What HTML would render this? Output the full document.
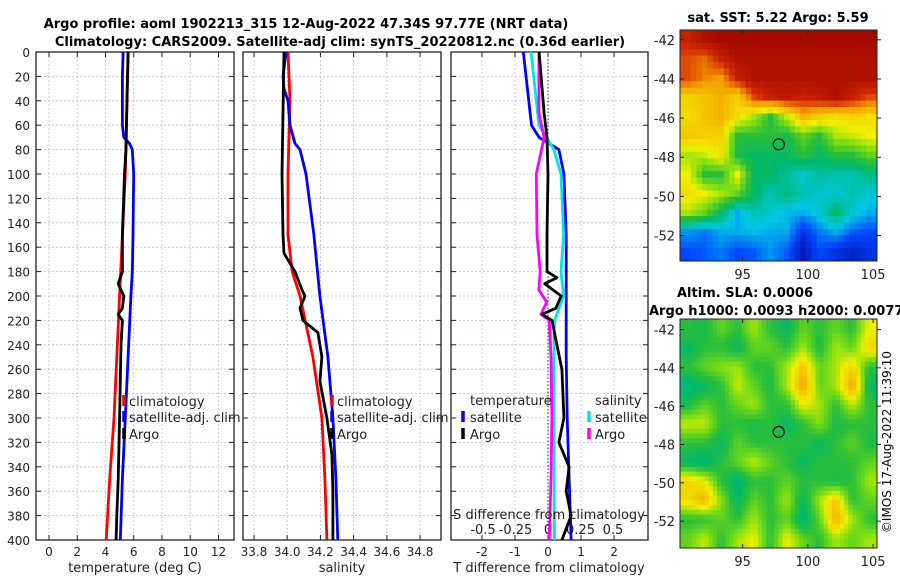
<!DOCTYPE html>
<html><head><meta charset="utf-8">
<style>
html,body{margin:0;padding:0;background:#fff;}
svg{display:block;font-family:"DejaVu Sans","Liberation Sans",sans-serif;}
</style></head>
<body>
<svg id="fig" width="900" height="580" viewBox="0 0 900 580" xmlns="http://www.w3.org/2000/svg">
<text x="306" y="28" font-size="13" font-weight="bold" text-anchor="middle">Argo profile: aoml 1902213_315 12-Aug-2022 47.34S 97.77E (NRT data)</text>
<text x="340" y="46" font-size="13" font-weight="bold" text-anchor="middle">Climatology: CARS2009. Satellite-adj clim: synTS_20220812.nc (0.36d earlier)</text>
<text x="778" y="22" font-size="13" font-weight="bold" text-anchor="middle">sat. SST: 5.22 Argo: 5.59</text>
<text x="677" y="297" font-size="13" font-weight="bold">Altim. SLA: 0.0006</text>
<text x="649" y="315" font-size="13" font-weight="bold">Argo h1000: 0.0093 h2000: 0.0077</text>
<text transform="translate(891,442) rotate(-90)" font-size="12" text-anchor="middle">©IMOS 17-Aug-2022 11:39:10</text>
<g id="layer"></g>
</svg>
<script>
// ---------- Data ----------
const depthTicks=[0,20,40,60,80,100,120,140,160,180,200,220,240,260,280,300,320,340,360,380,400];
const tempTicks=[0,2,4,6,8,10,12];
const salTicks=[33.8,34,34.2,34.4,34.6,34.8];
const tdiffTicks=[-2,-1,0,1,2];
const sdiffTicks=[-0.5,-0.25,0,0.25,0.5];
const sdiffTickLabels=["-0.5","-0.25","0","0.25","0.5"];

const tClimDepth=[0,50,100,150,200,250,300,350,400];
const tClimVal=[5.6,5.5,5.4,5.2,5.0,4.8,4.6,4.3,4.05];
const tSatDepth=[0,20,60,70,75,80,100,150,180,200,250,300,350,400];
const tSatVal=[5.25,5.2,5.2,5.3,5.7,5.9,6.0,5.95,5.9,5.8,5.6,5.4,5.2,5.05];
const tArgoDepth=[0,50,80,100,150,180,190,200,210,215,220,240,300,350,380,400];
const tArgoVal=[5.6,5.5,5.45,5.35,5.2,5.2,4.9,5.3,5.2,4.9,5.2,5.1,5.0,4.9,4.8,4.75];

const sClimDepth=[0,40,100,150,180,200,250,300,350,400];
const sClimVal=[34.005,34.017,34.005,34.005,34.03,34.077,34.155,34.209,34.227,34.239];
const sSatDepth=[0,20,30,40,60,75,80,100,150,200,250,300,350,400];
const sSatVal=[33.993,33.975,33.981,34.005,34.017,34.047,34.077,34.113,34.161,34.197,34.245,34.275,34.293,34.305];
const sArgoDepth=[0,50,100,150,165,180,195,200,210,220,230,250,270,300,330,360,400];
const sArgoVal=[33.981,33.975,33.969,33.975,33.981,34.047,34.089,34.107,34.077,34.095,34.185,34.209,34.197,34.239,34.269,34.275,34.275];

const dTSatDepth=[0,60,70,80,100,150,200,250,300,400];
const dTSatVal=[-0.75,-0.5,-0.27,0.33,0.48,0.55,0.55,0.55,0.58,0.7];
const dTArgoDepth=[0,50,70,100,150,180,185,190,200,210,215,220,240,260,300,320,340,360,380,400];
const dTArgoVal=[-0.27,-0.12,-0.03,0,-0.03,-0.03,0.27,-0.1,0.4,0.24,-0.18,0.12,0.27,0.42,0.48,0.33,0.64,0.55,0.7,0.42];
const dSSatDepth=[0,60,80,100,150,180,200,220,250,300,400];
const dSSatVal=[-0.13,-0.07,0.045,0.1,0.12,0.1,0.12,0.05,0.045,0.045,0.05];
const dSArgoDepth=[0,50,70,100,150,180,195,205,215,220,250,300,350,400];
const dSArgoVal=[-0.07,-0.07,-0.03,-0.09,-0.085,-0.06,-0.07,-0.01,-0.055,0.01,0.023,0.03,0.023,0.01];

const lonTicks=[95,100,105];
const latTicks=[-42,-44,-46,-48,-50,-52];
const argoLon=97.77, argoLat=-47.34;
const sstGrid=[
[0.9,0.95,0.97,0.97,0.97,0.97,0.97,0.97,0.97,0.97,0.97,0.97],
[0.85,0.82,0.9,0.95,0.95,0.95,0.95,0.95,0.95,0.95,0.95,0.95],
[0.85,0.8,0.78,0.9,0.95,0.95,0.95,0.95,0.95,0.95,0.95,0.95],
[0.7,0.72,0.75,0.7,0.85,0.9,0.92,0.9,0.92,0.95,0.9,0.85],
[0.68,0.72,0.75,0.68,0.6,0.5,0.62,0.75,0.7,0.68,0.7,0.68],
[0.72,0.7,0.7,0.5,0.5,0.5,0.48,0.55,0.5,0.6,0.62,0.65],
[0.6,0.62,0.68,0.48,0.45,0.45,0.45,0.5,0.45,0.5,0.5,0.55],
[0.65,0.5,0.5,0.65,0.45,0.45,0.4,0.35,0.4,0.38,0.38,0.42],
[0.68,0.65,0.6,0.55,0.45,0.38,0.42,0.38,0.35,0.35,0.38,0.35],
[0.6,0.55,0.45,0.3,0.38,0.35,0.32,0.3,0.35,0.45,0.35,0.3],
[0.28,0.25,0.3,0.3,0.32,0.3,0.3,0.15,0.25,0.3,0.22,0.2],
[0.2,0.22,0.25,0.2,0.22,0.28,0.22,0.08,0.2,0.15,0.1,0.15]];
const slaGrid=[
[0.5,0.48,0.55,0.5,0.6,0.5,0.45,0.55,0.5,0.55,0.5,0.65],
[0.45,0.5,0.5,0.45,0.55,0.55,0.5,0.6,0.48,0.6,0.55,0.7],
[0.5,0.55,0.58,0.6,0.5,0.5,0.6,0.72,0.55,0.6,0.7,0.5],
[0.42,0.45,0.5,0.62,0.55,0.48,0.6,0.78,0.55,0.6,0.78,0.45],
[0.48,0.55,0.5,0.55,0.6,0.5,0.5,0.65,0.6,0.5,0.62,0.5],
[0.62,0.62,0.5,0.5,0.48,0.5,0.45,0.5,0.58,0.48,0.5,0.5],
[0.5,0.5,0.45,0.55,0.5,0.5,0.5,0.5,0.45,0.5,0.55,0.48],
[0.45,0.42,0.5,0.55,0.62,0.55,0.5,0.45,0.5,0.5,0.5,0.55],
[0.7,0.65,0.5,0.42,0.5,0.5,0.55,0.5,0.5,0.48,0.5,0.6],
[0.68,0.75,0.58,0.45,0.55,0.5,0.6,0.45,0.6,0.72,0.5,0.55],
[0.5,0.5,0.55,0.5,0.6,0.5,0.55,0.42,0.55,0.75,0.6,0.5],
[0.55,0.62,0.5,0.6,0.65,0.5,0.65,0.55,0.5,0.6,0.55,0.6]];

// ---------- Drawing ----------
const NS="http://www.w3.org/2000/svg";
const layer=document.getElementById('layer');
function mk(tag,attrs,parent){const e=document.createElementNS(NS,tag);for(const k in attrs)e.setAttribute(k,attrs[k]);(parent||layer).appendChild(e);return e;}
const Y0=52,Y1=540;
const yScale=d=>Y0+(Y1-Y0)*d/400;

function panel(name,x0,x1,vmin,vmax,ticks,tickLabels,showY){
  const xs=v=>x0+(x1-x0)*(v-vmin)/(vmax-vmin);
  const g=mk('g',{});
  
  
  depthTicks.forEach(d=>{const l=mk('line',{x1:x0,x2:x1,y1:yScale(d),y2:yScale(d),stroke:'#b4bcee','stroke-width':0.8,'stroke-dasharray':'2,2'},g);});
  ticks.forEach(t=>{const l=mk('line',{x1:xs(t),x2:xs(t),y1:Y0,y2:Y1,stroke:'#c8b8e0','stroke-width':0.8,'stroke-dasharray':'2,2'},g);});
  const r=mk('rect',{x:x0,y:Y0,width:x1-x0,height:Y1-Y0,fill:'none',stroke:'#222','stroke-width':1.3},g);
  
  depthTicks.forEach(d=>{mk('line',{x1:x0,x2:x0+5,y1:yScale(d),y2:yScale(d),stroke:'#222'},g);mk('line',{x1:x1-5,x2:x1,y1:yScale(d),y2:yScale(d),stroke:'#222'},g);
    if(showY){const t=mk('text',{x:x0-6,y:yScale(d)+5,'font-size':12,'text-anchor':'end',fill:'#222'},g);t.textContent=d;}});
  ticks.forEach((v,i)=>{mk('line',{x1:xs(v),x2:xs(v),y1:Y1,y2:Y1-5,stroke:'#222'},g);mk('line',{x1:xs(v),x2:xs(v),y1:Y0,y2:Y0+5,stroke:'#222'},g);
    if(tickLabels){const t=mk('text',{x:xs(v),y:556,'font-size':12,'text-anchor':'middle',fill:'#222'},g);t.textContent=tickLabels[i];}});
  return xs;
}
function series(name,xs,depths,vals,color,w){
  const pts=depths.map((d,i)=>xs(vals[i]).toFixed(1)+','+yScale(d).toFixed(1)).join(' ');
  const p=mk('polyline',{points:pts,fill:'none',stroke:color,'stroke-width':w||2.8,'stroke-linejoin':'round'});
  
  
}
function txt(name,x,y,s,size,anchor){const t=mk('text',{x:x,y:y,'font-size':size||13,'text-anchor':anchor||'start',fill:'#222'});t.textContent=s;return t;}
function legBar(name,x,y,color){const l=mk('line',{x1:x,x2:x,y1:y-11,y2:y,stroke:color,'stroke-width':3.5});}

// Panel 1 temperature
const xT=panel('temperature-panel',36,234,-0.92,13.1,tempTicks,tempTicks.map(String),true);
series('temp-climatology-line',xT,tClimDepth,tClimVal,'#ff0000');
series('temp-satellite-line',xT,tSatDepth,tSatVal,'#0000ff');
series('temp-argo-line',xT,tArgoDepth,tArgoVal,'#000000');
txt('temp-x-axis-title',135,572,'temperature (deg C)',13,'middle');
legBar('legend-climatology-swatch',124,406,'#ff0000');txt('legend-climatology',129,406,'climatology');
legBar('legend-satellite-swatch',124,422,'#0000ff');txt('legend-satellite-adj',129,422,'satellite-adj. clim');
legBar('legend-argo-swatch',124,439,'#000');txt('legend-argo',129,439,'Argo');

// Panel 2 salinity
const xS=panel('salinity-panel',243,441,33.734,34.926,salTicks,salTicks.map(v=>v.toFixed(1)),false);
series('sal-climatology-line',xS,sClimDepth,sClimVal,'#ff0000');
series('sal-satellite-line',xS,sSatDepth,sSatVal,'#0000ff');
series('sal-argo-line',xS,sArgoDepth,sArgoVal,'#000000');
txt('sal-x-axis-title',342,572,'salinity',13,'middle');
legBar('legend2-climatology-swatch',332,406,'#ff0000');txt('legend2-climatology',337,406,'climatology');
legBar('legend2-satellite-swatch',332,422,'#0000ff');txt('legend2-satellite-adj',337,422,'satellite-adj. clim');
legBar('legend2-argo-swatch',332,439,'#000');txt('legend2-argo',337,439,'Argo');

// Panel 3 differences
const xD=panel('difference-panel',451,648,-2.94,3.03,tdiffTicks,tdiffTicks.map(String),false);
const xSD=v=>xD(0)+v*130;
sdiffTicks.forEach((v,i)=>{txt('s-diff-tick-label',xSD(v),534,sdiffTickLabels[i],13,'middle');});
const zl=mk('line',{x1:xD(0),x2:xD(0),y1:Y0,y2:Y1,stroke:'#333','stroke-width':1,'stroke-dasharray':'1.5,2'});

series('tdiff-satellite-line',xD,dTSatDepth,dTSatVal,'#0000ff');
series('sdiff-satellite-line',xSD,dSSatDepth,dSSatVal,'#00e5e5');
series('sdiff-argo-line',xSD,dSArgoDepth,dSArgoVal,'#ff00ff');
series('tdiff-argo-line',xD,dTArgoDepth,dTArgoVal,'#000000');
txt('s-diff-axis-title',549,519,'S difference from climatology',13,'middle');
txt('t-diff-axis-title',549,572,'T difference from climatology',13,'middle');
txt('legend3-temperature-header',470,405,'temperature');
legBar('legend3-t-satellite-swatch',463,422,'#0000ff');txt('legend3-t-satellite',470,422,'satellite');
legBar('legend3-t-argo-swatch',463,439,'#000');txt('legend3-t-argo',470,439,'Argo');
txt('legend3-salinity-header',595,405,'salinity');
legBar('legend3-s-satellite-swatch',589,422,'#00e5e5');txt('legend3-s-satellite',595,422,'satellite');
legBar('legend3-s-argo-swatch',589,439,'#ff00ff');txt('legend3-s-argo',595,439,'Argo');

// Maps
const cmapStops=[[0,[0,0,140]],[0.2,[0,70,255]],[0.33,[0,200,230]],[0.44,[0,185,110]],[0.5,[40,190,60]],[0.57,[120,220,20]],[0.65,[240,240,0]],[0.78,[245,160,0]],[0.88,[210,40,0]],[1,[150,0,0]]];
function cmap(v){v=Math.max(0,Math.min(1,v));
  for(let k=1;k<cmapStops.length;k++){const [p1,c1]=cmapStops[k-1],[p2,c2]=cmapStops[k];
    if(v<=p2){const t=(v-p1)/(p2-p1);return 'rgb('+c1.map((c,i)=>Math.round(c+(c2[i]-c)*t)).join(',')+')';}}
  return 'rgb(150,0,0)';}
function sample(grid,fy,fx){
  const R=grid.length,C=grid[0].length;
  fy=Math.max(0,Math.min(R-1,fy));fx=Math.max(0,Math.min(C-1,fx));
  const i=Math.min(R-2,Math.floor(fy)),j=Math.min(C-2,Math.floor(fx)),a=fy-i,b=fx-j;
  return grid[i][j]*(1-a)*(1-b)+grid[i][j+1]*(1-a)*b+grid[i+1][j]*a*(1-b)+grid[i+1][j+1]*a*b;
}
let clipN=0;
function map(name,grid,x0,x1,y0,y1,latTop,latBot,smooth){
  const lon0=90.2,lon1=105.3;
  const xs=l=>x0+(x1-x0)*(l-lon0)/(lon1-lon0);
  const ys=l=>y0+(y1-y0)*(latTop-l)/(latTop-latBot);
  const g=mk('g',{});
  
  
  const id='clip'+(clipN++);
  const cp=mk('clipPath',{id:id},g);mk('rect',{x:x0,y:y0,width:x1-x0,height:y1-y0},cp);
  const img=mk('g',{'clip-path':'url(#'+id+')'},g);
  const rows=grid.length,cols=grid[0].length;
  const up=smooth?4:3;
  const NR=rows*up,NC=cols*up,cw=(x1-x0)/NC,ch=(y1-y0)/NR;
  for(let i=0;i<NR;i++)for(let j=0;j<NC;j++){
    const v=sample(grid,(i+0.5)/up-0.5,(j+0.5)/up-0.5);
    const c=mk('rect',{x:(x0+j*cw).toFixed(2),y:(y0+i*ch).toFixed(2),width:(cw+0.5).toFixed(2),height:(ch+0.5).toFixed(2),fill:cmap(v)},img);
    
    
  }
  const fr=mk('rect',{x:x0,y:y0,width:x1-x0,height:y1-y0,fill:'none',stroke:'#222','stroke-width':1},g);
  
  lonTicks.forEach(l=>{mk('line',{x1:xs(l),x2:xs(l),y1:y1,y2:y1-4,stroke:'#222'},g);mk('line',{x1:xs(l),x2:xs(l),y1:y0,y2:y0+4,stroke:'#222'},g);
    const t=mk('text',{x:xs(l),y:y1+18,'font-size':13,'text-anchor':'middle',fill:'#222'},g);t.textContent=l;});
  latTicks.forEach(l=>{mk('line',{x1:x0,x2:x0+4,y1:ys(l),y2:ys(l),stroke:'#222'},g);mk('line',{x1:x1,x2:x1+4,y1:ys(l),y2:ys(l),stroke:'#222'},g);
    const t=mk('text',{x:x0-5,y:ys(l)+5,'font-size':13,'text-anchor':'end',fill:'#222'},g);t.textContent=l;});
  const c=mk('circle',{cx:xs(argoLon),cy:ys(argoLat),r:5.5,fill:'none',stroke:'#000','stroke-width':1.2},g);
  
}
map('sst-map',sstGrid,680,877,30,261,-41.5,-53.3,false);
map('sla-map',slaGrid,680,877,319,548,-41.45,-53.4,true);
</script>
</body></html>
